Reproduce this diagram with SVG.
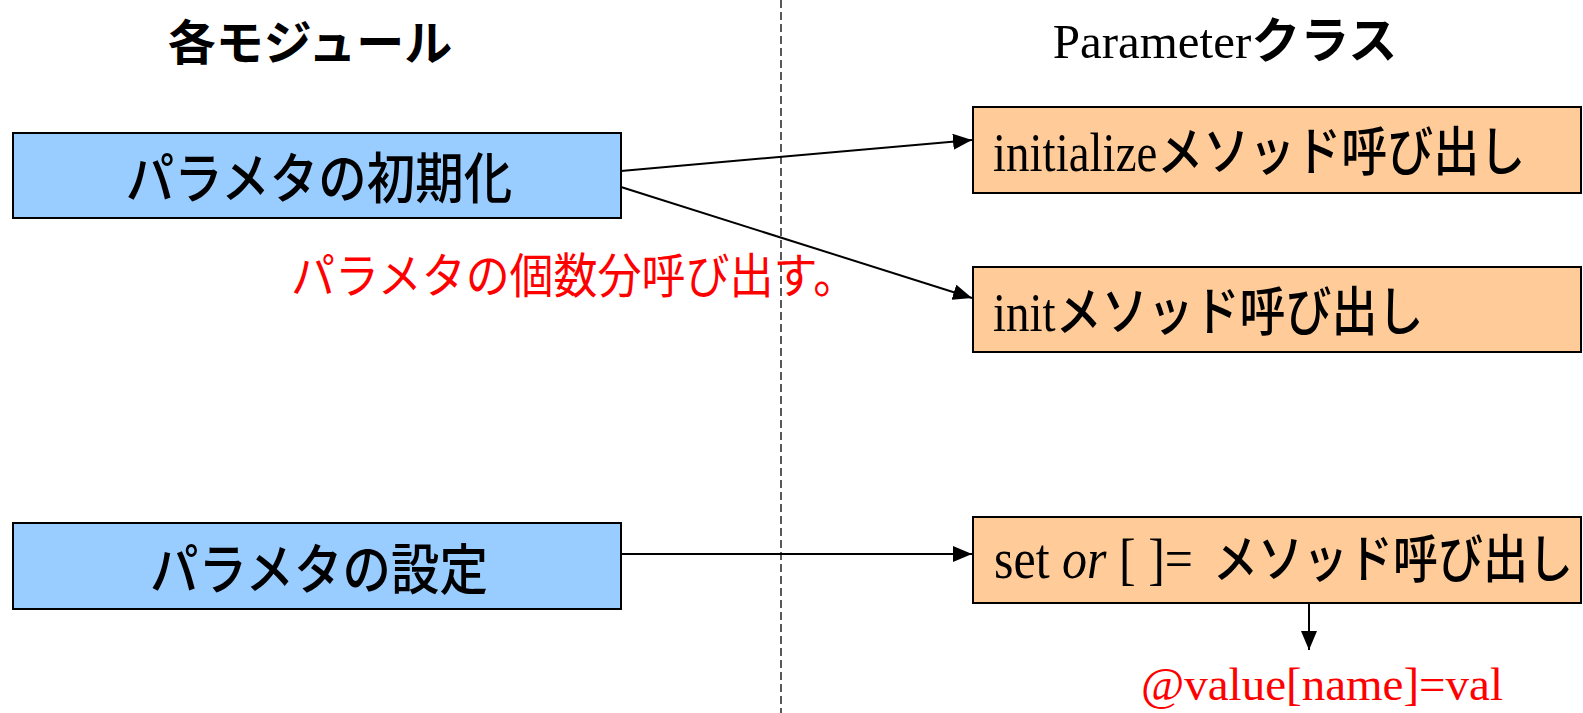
<svg xmlns="http://www.w3.org/2000/svg" width="1583" height="713" viewBox="0 0 1583 713">
<style>
.jp{font-family:"Noto Sans CJK JP",sans-serif;font-weight:500;fill:#000}
.jpb{font-family:"Noto Sans CJK JP",sans-serif;font-weight:bold;fill:#000}
.ser{font-family:"Liberation Serif","Noto Sans CJK JP",serif;fill:#000}
.m{font-family:"Noto Sans CJK JP",sans-serif;font-weight:500}
.b{font-family:"Noto Sans CJK JP",sans-serif;font-weight:bold}
.blue{fill:#99CCFF;stroke:#000;stroke-width:2}
.orange{fill:#FFCC99;stroke:#000;stroke-width:2}
.conn{stroke:#000;stroke-width:2;fill:none}
.red{fill:#FF0000}
</style>
<defs>
<marker id="arr" markerUnits="userSpaceOnUse" markerWidth="20" markerHeight="16" refX="19" refY="8" orient="auto">
<path d="M0,0 L19,8 L0,16 z" fill="#000"/>
</marker>
</defs>
<rect width="1583" height="713" fill="#fff"/>
<line x1="781" y1="0" x2="781" y2="713" stroke="#000" stroke-width="1.3" stroke-dasharray="8,4"/>
<g id="title-left"><text class="jpb" x="310" y="60" font-size="48" text-anchor="middle">各モジュール</text></g>
<g id="title-right"><text class="ser" x="1225" y="58" font-size="49" text-anchor="middle">Parameter<tspan class="b">クラス</tspan></text></g>
<g id="connectors">
<line class="conn" x1="621" y1="171" x2="972" y2="140" marker-end="url(#arr)"/>
<line class="conn" x1="621" y1="187" x2="972" y2="298" marker-end="url(#arr)"/>
<line class="conn" x1="621" y1="554" x2="972" y2="554" marker-end="url(#arr)"/>
<line class="conn" x1="1309" y1="603" x2="1309" y2="650" marker-end="url(#arr)"/>
</g>
<g id="node-init-left">
<rect class="blue" x="13" y="133" width="608" height="85"/>
<text class="jp" transform="translate(319,198) scale(1,1.12)" font-size="48.5" text-anchor="middle">パラメタの初期化</text>
</g>
<g id="note-count"><text transform="translate(291,293) scale(1,1.08)" font-size="44" class="red" font-family="Noto Sans CJK JP,sans-serif">パラメタの個数分呼び出す。</text></g>
<g id="node-initialize">
<rect class="orange" x="973" y="107" width="608" height="86"/>
<text class="ser" transform="translate(993,171) scale(1,1.15)" font-size="47">initialize<tspan class="m" font-size="46">メソッド呼び出し</tspan></text>
</g>
<g id="node-init">
<rect class="orange" x="973" y="267" width="608" height="85"/>
<text class="ser" transform="translate(993,331) scale(1,1.15)" font-size="47">init<tspan class="m" font-size="46">メソッド呼び出し</tspan></text>
</g>
<g id="node-set-left">
<rect class="blue" x="13" y="523" width="608" height="86"/>
<text class="jp" transform="translate(319,589) scale(1,1.12)" font-size="48.5" text-anchor="middle">パラメタの設定</text>
</g>
<g id="node-set">
<rect class="orange" x="973" y="517" width="608" height="86"/>
<text class="ser" transform="translate(994,578) scale(1,1.15)" font-size="50">set <tspan font-style="italic">or</tspan> [ ]= <tspan class="m" font-size="45" x="219">メソッド呼び出し</tspan></text>
</g>
<g id="note-value"><text class="ser" x="1322" y="700" font-size="47" text-anchor="middle" style="fill:#FF0000">@value[name]=val</text></g>
</svg>
